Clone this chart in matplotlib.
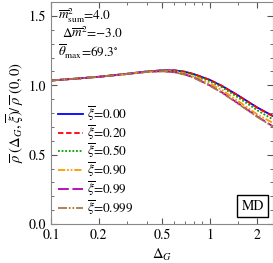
import numpy as np
import matplotlib
matplotlib.use("Agg")
import matplotlib.pyplot as plt
from matplotlib.ticker import MultipleLocator, FixedLocator, NullFormatter

plt.rcParams['font.family'] = 'serif'
plt.rcParams['font.serif'] = ['STIXGeneral', 'Liberation Serif', 'DejaVu Serif']
plt.rcParams['mathtext.fontset'] = 'stix'

delta = [0.1, 0.15, 0.2, 0.3, 0.4, 0.5, 0.6, 0.7, 0.8, 1.0, 1.2, 1.5, 2.0, 2.5]
rho_000 = [1.035, 1.050, 1.062, 1.083, 1.100, 1.108, 1.108, 1.098, 1.080, 1.040, 0.995, 0.930, 0.840, 0.780]
rho_020 = [1.035, 1.050, 1.062, 1.083, 1.100, 1.108, 1.108, 1.098, 1.080, 1.040, 0.995, 0.929, 0.838, 0.778]
rho_050 = [1.035, 1.050, 1.062, 1.083, 1.099, 1.107, 1.105, 1.093, 1.074, 1.030, 0.985, 0.915, 0.820, 0.755]
rho_090 = [1.035, 1.050, 1.062, 1.082, 1.098, 1.105, 1.100, 1.085, 1.063, 1.015, 0.965, 0.890, 0.790, 0.730]
rho_099 = [1.035, 1.050, 1.061, 1.081, 1.097, 1.102, 1.095, 1.078, 1.055, 1.000, 0.948, 0.873, 0.775, 0.705]
rho_0999 = [1.035, 1.050, 1.061, 1.081, 1.096, 1.101, 1.094, 1.077, 1.053, 0.998, 0.946, 0.870, 0.772, 0.702]

labels = ["0.00", "0.20", "0.50", "0.90", "0.99", "0.999"]
series = [rho_000, rho_020, rho_050, rho_090, rho_099, rho_0999]
colors = ["#0000ff", "#ff0000", "#00a000", "#ff9900", "#b000b0", "#a87848"]
styles = ["-", (0, (3, 1.5)), (0, (1, 1)), (0, (4, 1, 1, 1, 1, 1)), (0, (6, 2)), (0, (5, 1, 1, 1, 1, 1))]

fig = plt.figure(figsize=(2.73, 2.63), dpi=100)
ax = fig.add_axes([0.187, 0.148, 0.812, 0.844])

for y, lab, c, ls in zip(series, labels, colors, styles):
    ax.plot(delta, y, color=c, linestyle=ls, lw=1.3,
            label=r"$\overline{\xi}$=" + lab)

ax.set_xscale("log")
ax.set_xlim(0.1, 2.5)
ax.set_ylim(0, 1.6)
ax.set_xticks([0.1, 0.2, 0.5, 1, 2])
ax.set_xticklabels(["0.1", "0.2", "0.5", "1", "2"])
ax.xaxis.set_minor_locator(FixedLocator([0.3, 0.4, 0.6, 0.7, 0.8, 0.9, 1.5]))
ax.xaxis.set_minor_formatter(NullFormatter())
ax.yaxis.set_major_locator(MultipleLocator(0.5))
ax.yaxis.set_minor_locator(MultipleLocator(0.1))
ax.yaxis.set_major_formatter(matplotlib.ticker.FormatStrFormatter("%.1f"))
ax.tick_params(which="both", direction="in", top=True, right=True, labelsize=10, colors="#555555", labelcolor="black")
ax.tick_params(which="major", length=4)
ax.tick_params(which="minor", length=2)
for s in ax.spines.values():
    s.set_color("#888888")

ax.set_xlabel(r"$\Delta_G$", fontsize=10.5, labelpad=3)
ax.set_ylabel(r"$\overline{\rho}\;(\Delta_G,\overline{\xi})/\;\overline{\rho}\;(0,0)$", fontsize=10.5, labelpad=1)

ax.text(0.03, 0.98, r"$\overline{m}^2_{\rm sum}$=4.0", transform=ax.transAxes, fontsize=9.5, va="top")
ax.text(0.05, 0.895, r"$\Delta\overline{m}^2$=$-$3.0", transform=ax.transAxes, fontsize=9.5, va="top")
ax.text(0.03, 0.815, r"$\overline{\theta}_{\rm max}$=69.3$^{\circ}$", transform=ax.transAxes, fontsize=9.5, va="top")

ax.legend(loc="lower left", bbox_to_anchor=(0.0, 0.0), frameon=False, fontsize=9.5,
          handlelength=1.9, handletextpad=0.25, labelspacing=0.03, borderaxespad=0.15)

ax.text(0.96, 0.05, "MD", transform=ax.transAxes, fontsize=10, ha="right", va="bottom",
        bbox=dict(boxstyle="square,pad=0.3", fc="white", ec="black", lw=1))

fig.savefig("out.png", dpi=100)
